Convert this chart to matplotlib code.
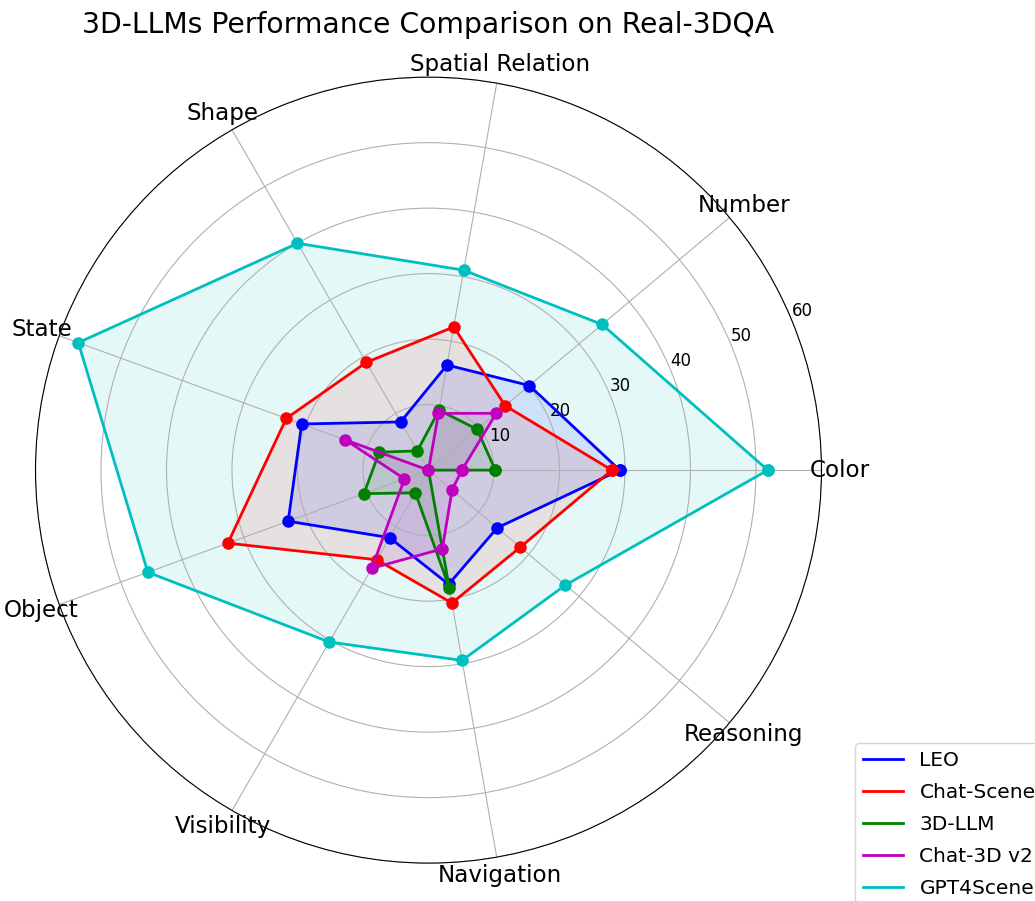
import matplotlib.pyplot as plt
from matplotlib.lines import Line2D
import numpy as np

plt.rcParams['font.family'] = 'DejaVu Sans'

categories = ['Color', 'Number', 'Spatial Relation', 'Shape', 'State',
              'Object', 'Visibility', 'Navigation', 'Reasoning']

models = ['LEO', 'Chat-Scene', '3D-LLM', 'Chat-3D v2', 'GPT4Scene']
leo = [29.2, 20.1, 16.3, 8.5, 20.6, 22.8, 11.9, 17.7, 13.7]
chat_scene = [28.0, 15.3, 22.2, 19.0, 23.1, 32.6, 15.8, 20.6, 18.3]
llm_3d = [10.2, 9.7, 9.3, 3.4, 8.0, 10.5, 4.0, 18.2, 0.0]
chat_3d_v2 = [5.1, 13.5, 8.8, 0.0, 13.5, 3.9, 17.3, 12.2, 4.7]
gpt4scene = [51.8, 34.6, 31.0, 40.0, 56.9, 45.6, 30.3, 29.5, 27.3]

series = [leo, chat_scene, llm_3d, chat_3d_v2, gpt4scene]
colors = ['b', 'r', 'g', 'm', 'c']

angles = np.linspace(0, 2 * np.pi, len(categories), endpoint=False).tolist()
angles_closed = angles + angles[:1]

fig = plt.figure(figsize=(10.35, 9.01), dpi=100)
ax = fig.add_axes([0.0343, 0.042, 0.7594, 0.8724], polar=True)

handles = []
for name, vals, c in zip(models, series, colors):
    v = vals + vals[:1]
    ax.plot(angles_closed, v, color=c, linewidth=2)
    ax.plot(angles_closed, v, 'o', color=c, markersize=8)
    ax.fill(angles_closed, v, color=c, alpha=0.1)
    handles.append(Line2D([], [], color=c, linewidth=2, label=name))

ax.set_xticks(angles)
ax.set_xticklabels(categories, fontsize=16.6)
ax.tick_params(axis='x', pad=3)
ax.set_ylim(0, 60)
ax.set_yticks([10, 20, 30, 40, 50, 60])
ax.set_yticklabels(['10', '20', '30', '40', '50', '60'], fontsize=12)
ax.set_rlabel_position(22.5)

ax.set_title('3D-LLMs Performance Comparison on Real-3DQA', fontsize=20.3, pad=32)

fig.legend(handles=handles, loc='upper left',
           bbox_to_anchor=(855 / 1035, 1 - 743 / 901),
           fontsize=14.5, labelspacing=0.65, borderaxespad=0)

fig.savefig('out.png', dpi=100)
